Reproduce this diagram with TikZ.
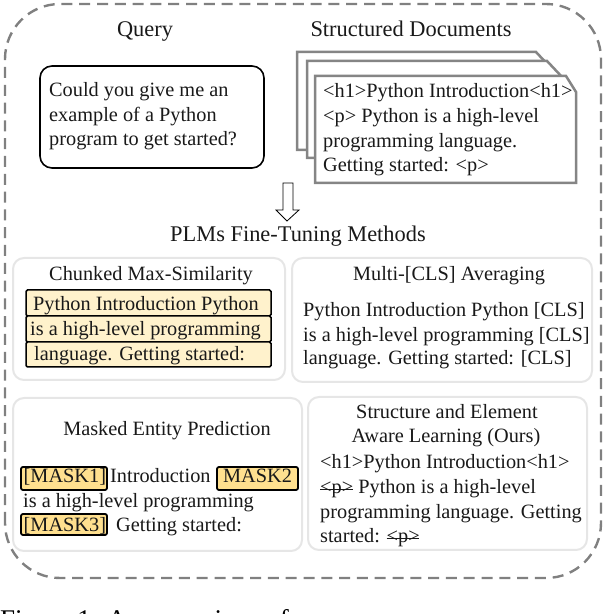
\documentclass[tikz,border=0pt]{standalone}
\usepackage{fontspec}
\setmainfont{Liberation Serif}
\definecolor{dashgray}{HTML}{808080}
\definecolor{docgray}{HTML}{858585}
\definecolor{panelgray}{HTML}{E6E6E6}
\definecolor{chunkfill}{HTML}{FFF2CC}
\definecolor{maskfill}{HTML}{FFE08F}
\tikzset{
  x=1pt,y=1pt,
  txt/.style={inner sep=0pt,font=\fontsize{20.3}{24}\selectfont,text=black!90},
  ltxt/.style={txt,anchor=base west},
  ctxt/.style={txt,anchor=base},
  ttl/.style={inner sep=0pt,anchor=base,font=\fontsize{22.4}{26}\selectfont,text=black!90},
  panel/.style={draw=panelgray,line width=2pt,rounded corners=11pt,fill=white},
  doc/.style={draw=docgray,line width=2.5pt,fill=white,line join=miter},
  chunk/.style={draw=black,line width=1.5pt,fill=chunkfill,rounded corners=1.5pt},
  mask/.style={draw=black,line width=1.8pt,fill=maskfill,rounded corners=2pt},
}
\newcommand{\strk}[1]{\leavevmode\rlap{\rule[0.22em]{1.6em}{0.7pt}}#1}
\begin{document}
\begin{tikzpicture}
\useasboundingbox (0,0) rectangle (604,614);
% outer dashed frame
\draw[dashgray,line width=2.4pt,dash pattern=on 11pt off 6.8pt,rounded corners=55pt] (5,36) rectangle (601,610);
% titles
\node[ttl] (tq) at (145,577) {Query};
\node[ttl] (tsd) at (411,577) {Structured Documents};
% query box
\draw[black,line width=1.6pt,rounded corners=12pt] (40,446) rectangle (264,548);
\node[ltxt] (q1) at (49,517) {Could you give me an};
\node[ltxt] (q2) at (49,492) {example of a Python};
\node[ltxt] (q3) at (49,468) {program to get started?};
% document stack
\draw[doc] (297,464) -- (297,562) -- (536,562) -- (551,546) -- (551,464) -- cycle;
\draw[doc] (307,456) -- (307,553) -- (547,553) -- (563,536) -- (563,456) -- cycle;
\draw[doc] (315,431) -- (315,538) -- (566,538) -- (576,522) -- (576,431) -- cycle;
\node[ltxt] (d1) at (323,516) {<h1>Python Introduction<h1>};
\node[ltxt] (d2) at (323,491) {<p> Python is a high-level};
\node[ltxt] (d3) at (323,466) {programming language.};
\node[ltxt] (d4) at (323,442) {Getting started: <p>};
% down arrow
\draw[black,line width=0.8pt,fill=white] (283,431) -- (293,431) -- (293,404) -- (299,404) -- (287,393) -- (276,404) -- (283,404) -- cycle;
\node[ttl] (tm) at (298,372) {PLMs Fine-Tuning Methods};
% panels
\draw[panel] (13,234) rectangle (285,356);
\draw[panel] (292,232) rectangle (592,356);
\draw[panel] (13,63) rectangle (302,216);
\draw[panel] (308,64) rectangle (587,217);
% chunked
\node[ctxt] (c0) at (151,333) {Chunked Max-Similarity};
\draw[chunk] (26,298) rectangle (271,324);
\draw[chunk] (26,272) rectangle (271,298);
\draw[chunk] (26,247) rectangle (271,272);
\node[ltxt] (c1) at (33,303) {Python Introduction Python};
\node[ltxt] (c2) at (30,278) {is a high-level programming};
\node[ltxt] (c3) at (34,253) {language. Getting started:};
% multi-cls
\node[ctxt] (m0) at (449,333) {Multi-[CLS] Averaging};
\node[ltxt] (m1) at (303,297) {Python Introduction Python [CLS]};
\node[ltxt] (m2) at (303,272) {is a high-level programming [CLS]};
\node[ltxt] (m3) at (303,249) {language. Getting started: [CLS]};
% masked
\node[ctxt] (e0) at (167,178) {Masked Entity Prediction};
\draw[mask] (21,124) rectangle (107,147);
\draw[mask] (217,124) rectangle (298,147);
\draw[mask] (21,79) rectangle (107,100);
\node[ltxt] (e1a) at (23.5,131) {[MASK1]};
\node[ltxt] (e1b) at (110,131) {Introduction};
\node[ltxt] (e1c) at (223,131) {MASK2};
\node[ltxt] (e2) at (23,106) {is a high-level programming};
\node[ltxt] (e3a) at (23.5,82) {[MASK3]};
\node[ltxt] (e3b) at (116,82) {Getting started:};
% ours
\node[ctxt] (o0) at (447,195) {Structure and Element};
\node[ctxt] (o1) at (446,171) {Aware Learning (Ours)};
\node[ltxt] (o2) at (320,145) {<h1>Python Introduction<h1>};
\node[ltxt] (o3) at (320,120) {\strk{<p>} Python is a high-level};
\node[ltxt] (o4) at (320,95) {programming language. Getting};
\node[ltxt] (o5) at (320,71) {started: \strk{<p>}};
% cropped caption
\begin{scope}
\clip (0,0) rectangle (604,4);
\node[inner sep=0pt,anchor=base west,font=\fontsize{27}{30}\selectfont] (cap) at (0,-15) {Figure 1: A comparison of};
\end{scope}
\end{tikzpicture}
\end{document}
